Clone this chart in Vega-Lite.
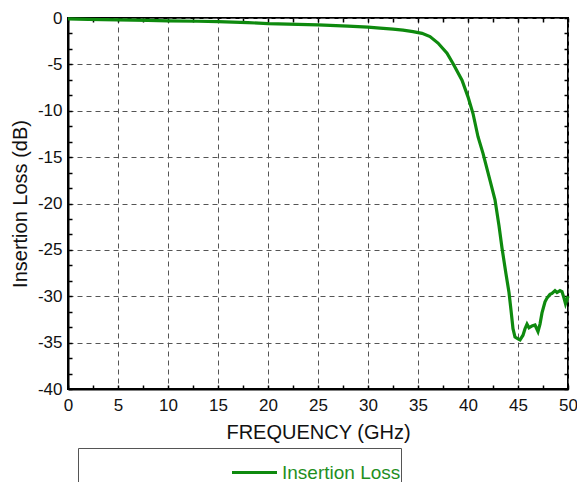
{
  "$schema": "https://vega.github.io/schema/vega-lite/v6.json",
  "width": 500,
  "height": 371,
  "autosize": {"type": "none"},
  "padding": {"left": 68, "top": 18, "right": 9, "bottom": 93},
  "background": "white",
  "config": {
    "view": {"stroke": "black", "strokeWidth": 2},
    "font": "Liberation Sans",
    "axis": {
      "labelFont": "Liberation Sans",
      "titleFont": "Liberation Sans",
      "labelColor": "#111",
      "titleColor": "#111",
      "titleFontWeight": "normal",
      "domainColor": "black",
      "domainWidth": 2,
      "tickColor": "black",
      "tickWidth": 1.5,
      "gridColor": "#555",
      "gridDash": [5, 4],
      "gridWidth": 1
    }
  },
  "data": {
    "values": [
      {"f": 0, "loss": -0.1, "series": "Insertion Loss"},
      {"f": 2, "loss": -0.15, "series": "Insertion Loss"},
      {"f": 5, "loss": -0.2, "series": "Insertion Loss"},
      {"f": 8, "loss": -0.25, "series": "Insertion Loss"},
      {"f": 10, "loss": -0.3, "series": "Insertion Loss"},
      {"f": 13, "loss": -0.35, "series": "Insertion Loss"},
      {"f": 15, "loss": -0.4, "series": "Insertion Loss"},
      {"f": 18, "loss": -0.5, "series": "Insertion Loss"},
      {"f": 20, "loss": -0.6, "series": "Insertion Loss"},
      {"f": 22, "loss": -0.65, "series": "Insertion Loss"},
      {"f": 25, "loss": -0.75, "series": "Insertion Loss"},
      {"f": 28, "loss": -0.88, "series": "Insertion Loss"},
      {"f": 30, "loss": -0.98, "series": "Insertion Loss"},
      {"f": 31.2, "loss": -1.1, "series": "Insertion Loss"},
      {"f": 32.5, "loss": -1.2, "series": "Insertion Loss"},
      {"f": 33.5, "loss": -1.3, "series": "Insertion Loss"},
      {"f": 34.5, "loss": -1.47, "series": "Insertion Loss"},
      {"f": 35.4, "loss": -1.65, "series": "Insertion Loss"},
      {"f": 36.2, "loss": -2.0, "series": "Insertion Loss"},
      {"f": 37.0, "loss": -2.7, "series": "Insertion Loss"},
      {"f": 37.9, "loss": -3.8, "series": "Insertion Loss"},
      {"f": 38.5, "loss": -4.9, "series": "Insertion Loss"},
      {"f": 39.4, "loss": -6.7, "series": "Insertion Loss"},
      {"f": 40.0, "loss": -8.5, "series": "Insertion Loss"},
      {"f": 40.5, "loss": -10.3, "series": "Insertion Loss"},
      {"f": 41.0, "loss": -12.8, "series": "Insertion Loss"},
      {"f": 41.5, "loss": -14.6, "series": "Insertion Loss"},
      {"f": 42.2, "loss": -17.5, "series": "Insertion Loss"},
      {"f": 42.7, "loss": -19.6, "series": "Insertion Loss"},
      {"f": 43.1, "loss": -22.4, "series": "Insertion Loss"},
      {"f": 43.4, "loss": -24.8, "series": "Insertion Loss"},
      {"f": 43.8, "loss": -27.6, "series": "Insertion Loss"},
      {"f": 44.1, "loss": -29.6, "series": "Insertion Loss"},
      {"f": 44.3, "loss": -31.5, "series": "Insertion Loss"},
      {"f": 44.5, "loss": -33.5, "series": "Insertion Loss"},
      {"f": 44.7, "loss": -34.4, "series": "Insertion Loss"},
      {"f": 45.0, "loss": -34.6, "series": "Insertion Loss"},
      {"f": 45.2, "loss": -34.7, "series": "Insertion Loss"},
      {"f": 45.5, "loss": -34.2, "series": "Insertion Loss"},
      {"f": 45.7, "loss": -33.5, "series": "Insertion Loss"},
      {"f": 45.9, "loss": -33.0, "series": "Insertion Loss"},
      {"f": 46.1, "loss": -33.4, "series": "Insertion Loss"},
      {"f": 46.4, "loss": -33.2, "series": "Insertion Loss"},
      {"f": 46.7, "loss": -33.1, "series": "Insertion Loss"},
      {"f": 47.0, "loss": -33.8, "series": "Insertion Loss"},
      {"f": 47.2, "loss": -33.0, "series": "Insertion Loss"},
      {"f": 47.4, "loss": -31.8, "series": "Insertion Loss"},
      {"f": 47.7, "loss": -30.6, "series": "Insertion Loss"},
      {"f": 47.9, "loss": -30.2, "series": "Insertion Loss"},
      {"f": 48.2, "loss": -29.8, "series": "Insertion Loss"},
      {"f": 48.4, "loss": -29.7, "series": "Insertion Loss"},
      {"f": 48.7, "loss": -29.4, "series": "Insertion Loss"},
      {"f": 48.9, "loss": -29.6, "series": "Insertion Loss"},
      {"f": 49.2, "loss": -29.4, "series": "Insertion Loss"},
      {"f": 49.4, "loss": -29.5, "series": "Insertion Loss"},
      {"f": 49.6, "loss": -30.2, "series": "Insertion Loss"},
      {"f": 49.75, "loss": -30.8, "series": "Insertion Loss"},
      {"f": 50, "loss": -30.0, "series": "Insertion Loss"}
    ]
  },
  "layer": [
    {
      "mark": {"type": "line", "strokeWidth": 3.2, "interpolate": "linear"},
      "encoding": {
        "x": {
          "field": "f",
          "type": "quantitative",
          "scale": {"domain": [0, 50], "nice": false},
          "axis": {
            "orient": "bottom",
            "title": "FREQUENCY (GHz)",
            "titleFontSize": 20,
            "titlePadding": 9,
            "labelFontSize": 17,
            "values": [0, 2.5, 5, 7.5, 10, 12.5, 15, 17.5, 20, 22.5, 25, 27.5, 30, 32.5, 35, 37.5, 40, 42.5, 45, 47.5, 50],
            "labelExpr": "datum.value % 5 === 0 ? '' + datum.value : ''",
            "labelPadding": 12,
            "tickSize": -4,
            "gridOpacity": {"condition": {"test": "datum.value % 5 !== 0", "value": 0}, "value": 1},
            "labelFlush": false,
            "labelOverlap": false
          }
        },
        "y": {
          "field": "loss",
          "type": "quantitative",
          "scale": {"domain": [-40, 0], "nice": false},
          "axis": {
            "orient": "left",
            "title": "Insertion Loss (dB)",
            "titleFontSize": 20,
            "titleX": -48,
            "titleBaseline": "middle",
            "labelFontSize": 17,
            "values": [-40, -38.3333, -36.6667, -35, -33.3333, -31.6667, -30, -28.3333, -26.6667, -25, -23.3333, -21.6667, -20, -18.3333, -16.6667, -15, -13.3333, -11.6667, -10, -8.3333, -6.6667, -5, -3.3333, -1.6667, 0],
            "labelExpr": "datum.value % 5 === 0 ? '' + datum.value : ''",
            "labelPadding": 10,
            "tickSize": -4,
            "gridOpacity": {"condition": {"test": "datum.value % 5 !== 0", "value": 0}, "value": 1},
            "labelFlush": false,
            "labelOverlap": false
          }
        },
        "color": {
          "field": "series",
          "type": "nominal",
          "scale": {"range": ["#0e8a0e"]},
          "legend": {
            "orient": "none",
            "legendX": 10,
            "legendY": 430,
            "title": null,
            "strokeColor": "#555",
            "fillColor": "white",
            "padding": 0,
            "symbolOffset": 152,
            "symbolType": "stroke",
            "symbolSize": 2025,
            "symbolStrokeWidth": 3.2,
            "labelFont": "Liberation Sans",
            "labelFontSize": 19,
            "labelColor": "#1f8f1f",
            "labelOffset": 3
          }
        }
      }
    },
    {
      "mark": {"type": "line", "opacity": 0},
      "encoding": {
        "x": {
          "field": "f",
          "type": "quantitative",
          "axis": {
            "orient": "top",
            "title": null,
            "labels": false,
            "grid": false,
            "domain": false,
            "values": [0, 2.5, 5, 7.5, 10, 12.5, 15, 17.5, 20, 22.5, 25, 27.5, 30, 32.5, 35, 37.5, 40, 42.5, 45, 47.5, 50],
            "tickSize": -4
          }
        },
        "y": {
          "field": "loss",
          "type": "quantitative",
          "axis": {
            "orient": "right",
            "title": null,
            "labels": false,
            "grid": false,
            "domain": false,
            "values": [-40, -38.3333, -36.6667, -35, -33.3333, -31.6667, -30, -28.3333, -26.6667, -25, -23.3333, -21.6667, -20, -18.3333, -16.6667, -15, -13.3333, -11.6667, -10, -8.3333, -6.6667, -5, -3.3333, -1.6667, 0],
            "tickSize": -4
          }
        }
      }
    }
  ],
  "resolve": {"axis": {"x": "independent", "y": "independent"}}
}
